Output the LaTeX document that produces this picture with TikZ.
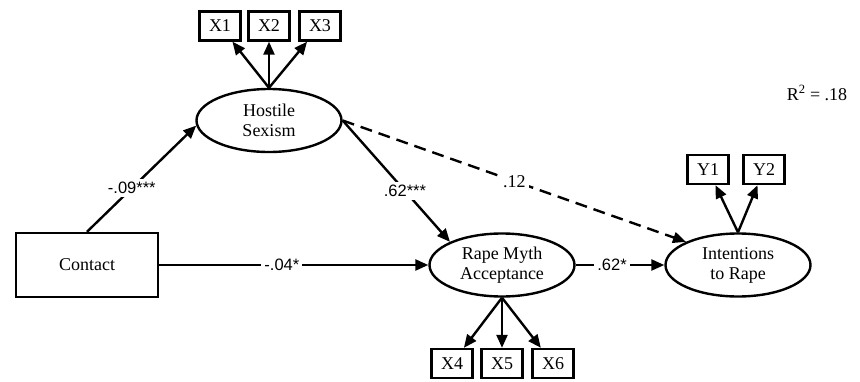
\documentclass[tikz,border=0pt]{standalone}
\usepackage{fontspec}
\setmainfont{Liberation Serif}
\newfontfamily\labfont{Liberation Sans}
\usetikzlibrary{shapes.geometric,arrows.meta}
\begin{document}
\begin{tikzpicture}[x=1pt,y=-1pt,
  lat/.style={ellipse,draw,line width=2.4pt,minimum width=145pt,minimum height=63pt,inner sep=0pt,align=center,font=\fontsize{18}{20}\selectfont},
  obs/.style={rectangle,draw,line width=2.4pt,minimum width=41pt,minimum height=29pt,inner sep=0pt,font=\fontsize{18}{20}\selectfont},
  arr/.style={line width=2.4pt,-{Triangle[length=13pt,width=11pt]}},
  lab/.style={fill=white,inner sep=3pt,font=\labfont\fontsize{16.5}{18}\selectfont},
  serlab/.style={fill=white,inner sep=3pt,font=\fontsize{18}{20}\selectfont},
  plain/.style={font=\fontsize{18}{20}\selectfont}]
\useasboundingbox (0,0) rectangle (860,381);
% latent variables
\node[lat] (h) at (269,120.5) {Hostile\\Sexism};
\node[lat] (r) at (502,265) {Rape Myth\\Acceptance};
\node[lat] (i) at (738,265) {Intentions\\to Rape};
% contact
\node[obs,minimum width=142pt,minimum height=64pt] (c) at (87,265) {Contact};
% indicators
\node[obs] (x1) at (220,26) {X1};
\node[obs] (x2) at (269,26) {X2};
\node[obs] (x3) at (320,26) {X3};
\node[obs] (x4) at (452,363.5) {X4};
\node[obs] (x5) at (502,363.5) {X5};
\node[obs] (x6) at (553,363.5) {X6};
\node[obs] (y1) at (708,169.5) {Y1};
\node[obs] (y2) at (764,169.5) {Y2};
% R squared
\node[plain] (rsq) at (817,93) {R\textsuperscript{2} = .18};
% loadings
\foreach \t in {x1,x2,x3} \draw[arr] (h.north) -- (\t);
\foreach \t in {x4,x5,x6} \draw[arr] (r.south) -- (\t);
\foreach \t in {y1,y2} \draw[arr] (i.north) -- (\t);
% structural paths
\draw[arr] (c.north) -- node[lab,pos=0.41] {-.09***} (h.184);
\draw[arr] (h.east) -- node[lab,pos=0.58] {.62***} (r.156);
\draw[arr,dash pattern=on 12pt off 7pt] (h.east) -- node[serlab,pos=0.5] {.12} (i.156);
\draw[arr] (c.east) -- node[lab,pos=0.456] {-.04*} (r.west);
\draw[arr] (r.east) -- node[lab,pos=0.41] {.62*} (i.west);
\end{tikzpicture}
\end{document}
